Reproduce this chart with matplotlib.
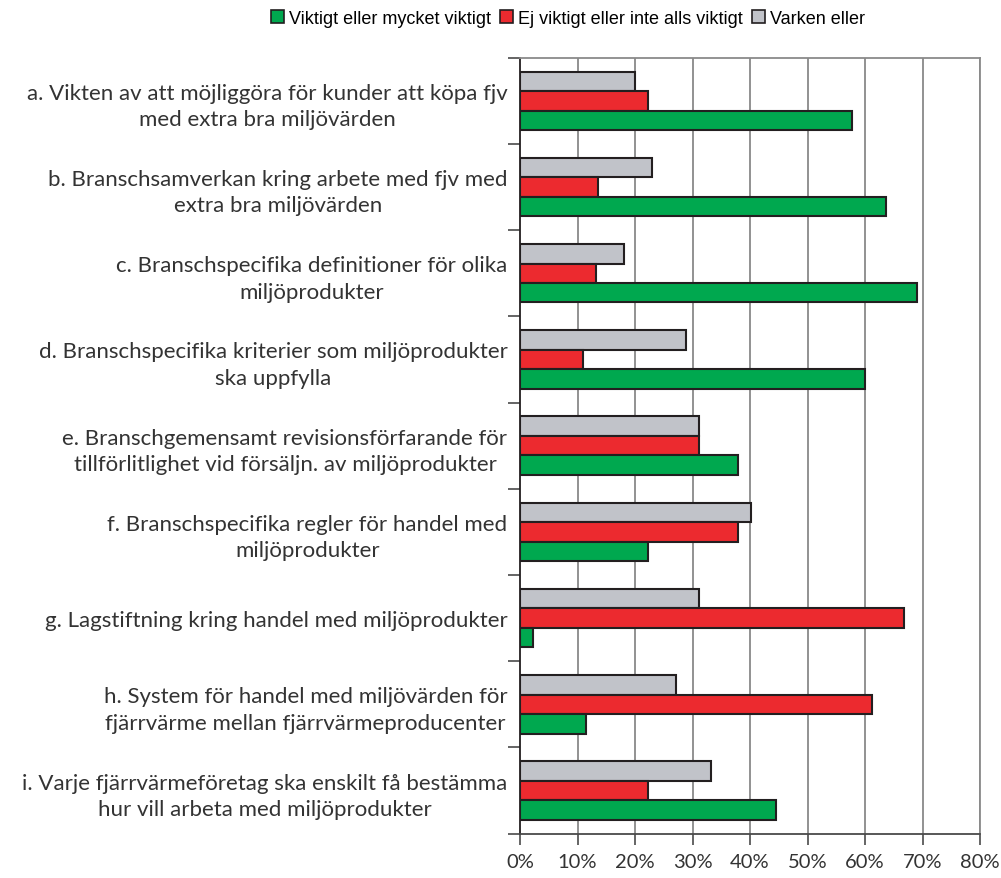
import numpy as np
import matplotlib
matplotlib.use("Agg")
import matplotlib.pyplot as plt
from matplotlib.patches import Patch

# Svarsandelar (%) per fråga
kategorier = [
    "a. Vikten av att möjliggöra för kunder att köpa fjv\nmed extra bra miljövärden",
    "b. Branschsamverkan kring arbete med fjv med\nextra bra miljövärden",
    "c. Branschspecifika definitioner för olika\nmiljöprodukter",
    "d. Branschspecifika kriterier som miljöprodukter\nska uppfylla",
    "e. Branschgemensamt revisionsförfarande för\ntillförlitlighet vid försäljn. av miljöprodukter",
    "f. Branschspecifika regler för handel med\nmiljöprodukter",
    "g. Lagstiftning kring handel med miljöprodukter",
    "h. System för handel med miljövärden för\nfjärrvärme mellan fjärrvärmeproducenter",
    "i. Varje fjärrvärmeföretag ska enskilt få bestämma\nhur vill arbeta med miljöprodukter",
]
viktigt = [57.8, 63.6, 69.0, 60.0, 37.9, 22.3, 2.3, 11.4, 44.5]
ej_viktigt = [22.3, 13.6, 13.3, 11.0, 31.2, 37.9, 66.8, 61.2, 22.3]
varken = [20.0, 22.9, 18.0, 28.9, 31.2, 40.1, 31.2, 27.2, 33.2]

serienamn = ["Viktigt eller mycket viktigt", "Ej viktigt eller inte alls viktigt", "Varken eller"]
farger = ["#00a84f", "#ec2a2f", "#c1c3c9"]
kant = "#231f20"

x_ticks = [0, 10, 20, 30, 40, 50, 60, 70, 80]

fig = plt.figure(figsize=(10.01, 8.79), dpi=100)
ax = fig.add_axes([520 / 1001, 1 - 834.7 / 879, 460 / 1001, 776 / 879])

y = np.arange(len(kategorier))
h = 0.226
ax.barh(y - h, varken, height=h, color=farger[2], edgecolor=kant, linewidth=1.5, zorder=3)
ax.barh(y, ej_viktigt, height=h, color=farger[1], edgecolor=kant, linewidth=1.5, zorder=3)
ax.barh(y + h, viktigt, height=h, color=farger[0], edgecolor=kant, linewidth=1.5, zorder=3)

ax.set_xlim(0, 80)
ax.set_ylim(len(kategorier) - 0.5, -0.5)

ax.set_xticks(x_ticks)
ax.set_xticklabels([f"{v}%" for v in x_ticks], fontsize=14.5, family="Lato", color="#333333")
ax.tick_params(axis="x", length=8, width=1.2, color="#4a4a4a", pad=6)
for v in x_ticks[1:]:
    ax.axvline(v, color="#7f7f7f", linewidth=1.2, zorder=1)

ax.set_yticks(y)
ax.set_yticklabels(kategorier, fontsize=16, family="Lato", color="#333333",
                   multialignment="center", linespacing=1.4)
ax.set_yticks(np.arange(len(kategorier) + 1) - 0.5, minor=True)
ax.tick_params(axis="y", which="major", length=0, pad=9)
ax.tick_params(axis="y", which="minor", length=9, width=1.2, color="#4a4a4a")

ax.spines["left"].set_color(kant)
ax.spines["left"].set_linewidth(1.3)
ax.spines["bottom"].set_color("#4a4a4a")
ax.spines["bottom"].set_linewidth(1.3)
for s in ("top", "right"):
    ax.spines[s].set_color("#8a8a8a")
    ax.spines[s].set_linewidth(1.3)

handles = [Patch(facecolor=c, edgecolor=kant, linewidth=1.2) for c in farger]
fig.legend(handles, serienamn, loc="center", bbox_to_anchor=(568 / 1001, 1 - 19 / 879),
           ncol=3, frameon=False, handlelength=0.7, handleheight=0.7,
           handletextpad=0.3, columnspacing=0.5,
           prop={"family": ["Liberation Sans Narrow", "Liberation Sans"], "size": 13})

fig.savefig("out.png", dpi=100)
